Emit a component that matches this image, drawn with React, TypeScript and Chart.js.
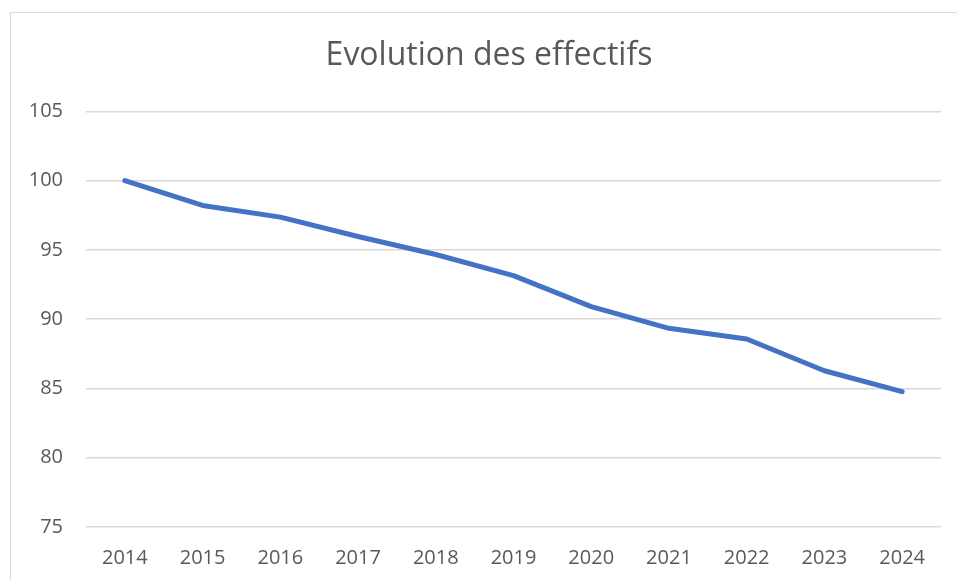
import React, { useEffect, useRef } from "react";
import { Chart, registerables } from "chart.js";

Chart.register(...registerables);

const years = ["2014", "2015", "2016", "2017", "2018", "2019", "2020", "2021", "2022", "2023", "2024"];
const effectifs = [100, 98.21, 97.37, 95.97, 94.67, 93.15, 90.91, 89.34, 88.57, 86.28, 84.77];
const yMin = 75;
const yMax = 105;
const yStep = 5;
const titleText = "Evolution des effectifs";

const titleShift = {
  id: "titleShift",
  afterLayout(chart: any) {
    const tb = chart.titleBlock;
    if (tb) {
      tb.left = 37;
    }
  },
};

export default function App() {
  const ref = useRef<HTMLCanvasElement | null>(null);
  useEffect(() => {
    if (!ref.current) return;
    const chart = new Chart(ref.current, {
      type: "line",
      data: {
        labels: years,
        datasets: [
          {
            label: "Effectifs",
            data: effectifs,
            borderColor: "#4472C4",
            backgroundColor: "#4472C4",
            borderWidth: 5,
            borderCapStyle: "round",
            borderJoinStyle: "round",
            pointRadius: 0,
            tension: 0,
            fill: false,
          },
        ],
      },
      plugins: [titleShift],
      options: {
        animation: false,
        responsive: false,
        maintainAspectRatio: false,
        layout: { padding: { left: 0, right: 16, top: 0, bottom: 0 } },
        plugins: {
          legend: { display: false },
          tooltip: { enabled: false },
          title: {
            display: true,
            text: titleText,
            color: "#595959",
            font: { family: "'Open Sans'", size: 32, weight: "normal" },
            padding: { top: 37, bottom: 36 },
          },
        },
        scales: {
          x: {
            offset: true,
            grid: { display: false, drawTicks: false },
            border: { display: false },
            ticks: {
              color: "#595959",
              font: { family: "'Open Sans'", size: 20 },
              padding: 19,
              maxRotation: 0,
              autoSkip: false,
            },
            afterFit: (s: any) => {
              s.height = 53;
            },
          },
          y: {
            min: yMin,
            max: yMax,
            grid: { color: "#d9d9d9", lineWidth: 1.5, drawTicks: false },
            border: { display: false },
            ticks: {
              stepSize: yStep,
              color: "#595959",
              font: { family: "'Open Sans'", size: 20 },
              padding: 23,
            },
            afterFit: (s: any) => {
              s.width = 86;
            },
          },
        },
      },
    });
    return () => chart.destroy();
  }, []);
  return (
    <div style={{ position: "fixed", left: 0, top: 0, width: 957, height: 580, overflow: "hidden", background: "#fff" }}>
      <div
        style={{
          position: "absolute",
          left: 10,
          top: 12,
          width: 1000,
          height: 1000,
          border: "1.5px solid #d9d9d9",
          boxSizing: "border-box",
        }}
      />
      <canvas ref={ref} width={957} height={580} style={{ position: "absolute", left: 0, top: 0 }} />
    </div>
  );
}
